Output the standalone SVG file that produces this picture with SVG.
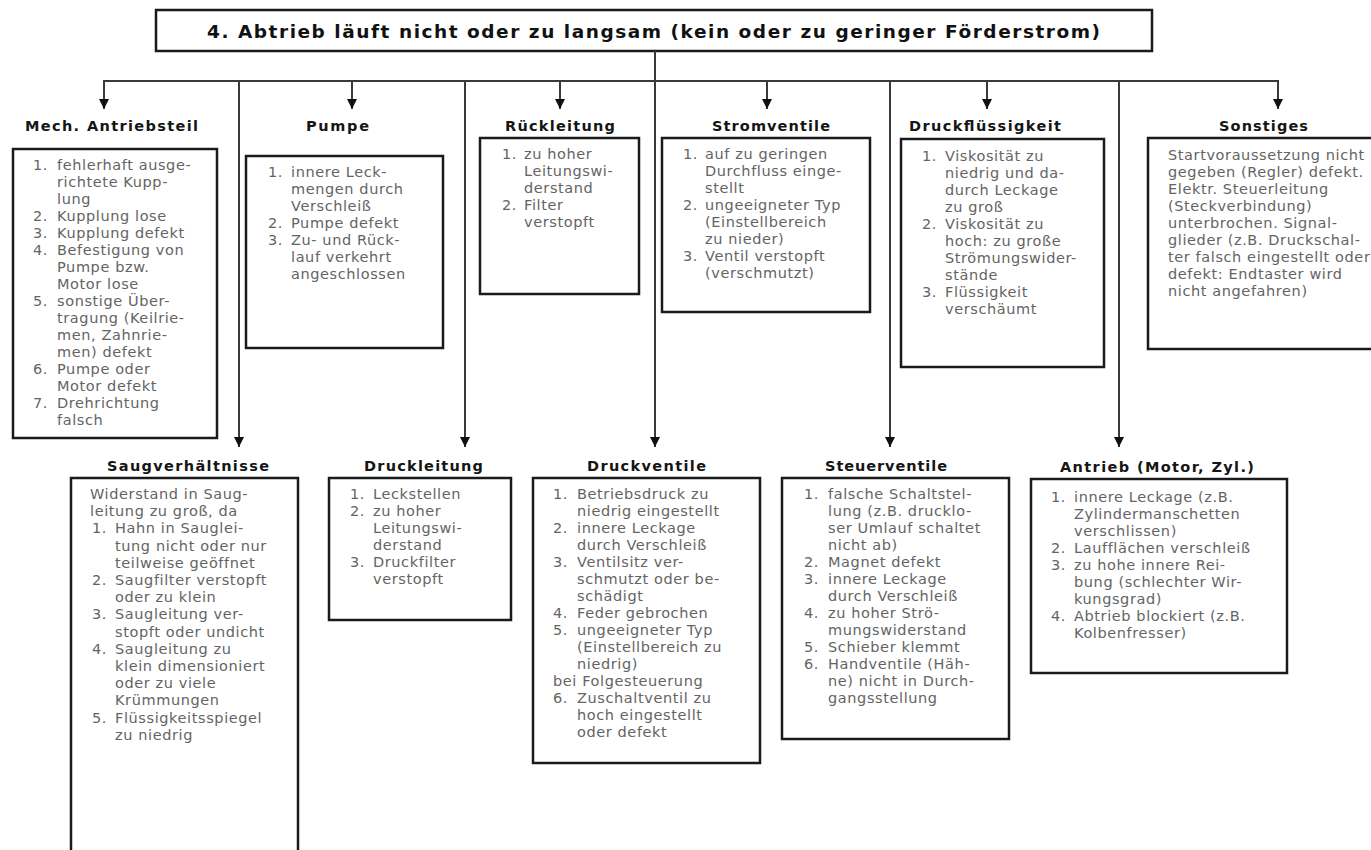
<svg xmlns="http://www.w3.org/2000/svg" width="1371" height="850" viewBox="0 0 1371 850">
  <style>
    .box { fill: #ffffff; stroke: #1a1a1a; stroke-width: 2.5; }
    .title { font-family: "DejaVu Sans", "Liberation Sans", sans-serif; font-weight: bold; font-size: 18.5px; fill: #111; }
    .head { font-family: "DejaVu Sans", "Liberation Sans", sans-serif; font-weight: bold; font-size: 14.5px; fill: #151515; }
    .body { font-family: "DejaVu Sans", "Liberation Sans", sans-serif; font-size: 14.5px; letter-spacing: 0.6px; fill: #646464; }
    .wire { fill: none; stroke: #3a3a3a; stroke-width: 2; }
    .drop { fill: none; stroke: #3a3a3a; stroke-width: 2; marker-end: url(#tip); }
  </style>
  <defs>
    <marker id="tip" viewBox="0 0 10 10" refX="10" refY="5" markerWidth="10" markerHeight="10" markerUnits="userSpaceOnUse" orient="auto">
      <path d="M0,0 L10,5 L0,10 z" fill="#111"/>
    </marker>
  </defs>

  <rect width="1371" height="850" fill="#ffffff"/>

  <!-- main problem -->
  <g id="title">
    <rect class="box" x="156" y="10" width="996" height="41" stroke-width="2"/>
    <text class="title" x="207" y="38" textLength="893">4. Abtrieb läuft nicht oder zu langsam (kein oder zu geringer Förderstrom)</text>
  </g>

  <!-- connectors: stem, bus and drops -->
  <g id="connectors">
    <line class="wire" x1="104" y1="81" x2="1278" y2="81"/>
    <line class="drop" x1="655" y1="51" x2="655" y2="447"/>
    <line class="drop" x1="104" y1="80" x2="104" y2="109"/>
    <line class="drop" x1="352" y1="81" x2="352" y2="109"/>
    <line class="drop" x1="560" y1="81" x2="560" y2="109"/>
    <line class="drop" x1="767" y1="81" x2="767" y2="109"/>
    <line class="drop" x1="987" y1="81" x2="987" y2="109"/>
    <line class="drop" x1="1278" y1="80" x2="1278" y2="109"/>
    <line class="drop" x1="239" y1="81" x2="239" y2="447"/>
    <line class="drop" x1="465" y1="81" x2="465" y2="447"/>
    <line class="drop" x1="890" y1="81" x2="890" y2="447"/>
    <line class="drop" x1="1119" y1="81" x2="1119" y2="447"/>
  </g>

  <!-- upper row -->
  <g id="mech-antriebsteil">
    <text class="head" x="25" y="131" textLength="173">Mech. Antriebsteil</text>
    <rect class="box" x="13" y="149" width="204" height="289"/>
    <text class="body">
      <tspan x="33" y="170">1.</tspan><tspan x="57" y="170">fehlerhaft ausge-</tspan>
      <tspan x="57" y="187">richtete Kupp-</tspan>
      <tspan x="57" y="204">lung</tspan>
      <tspan x="33" y="221">2.</tspan><tspan x="57" y="221">Kupplung lose</tspan>
      <tspan x="33" y="238">3.</tspan><tspan x="57" y="238">Kupplung defekt</tspan>
      <tspan x="33" y="255">4.</tspan><tspan x="57" y="255">Befestigung von</tspan>
      <tspan x="57" y="272">Pumpe bzw.</tspan>
      <tspan x="57" y="289">Motor lose</tspan>
      <tspan x="33" y="306">5.</tspan><tspan x="57" y="306">sonstige Über-</tspan>
      <tspan x="57" y="323">tragung (Keilrie-</tspan>
      <tspan x="57" y="340">men, Zahnrie-</tspan>
      <tspan x="57" y="357">men) defekt</tspan>
      <tspan x="33" y="374">6.</tspan><tspan x="57" y="374">Pumpe oder</tspan>
      <tspan x="57" y="391">Motor defekt</tspan>
      <tspan x="33" y="408">7.</tspan><tspan x="57" y="408">Drehrichtung</tspan>
      <tspan x="57" y="425">falsch</tspan>
    </text>
  </g>

  <g id="pumpe">
    <text class="head" x="306" y="131" textLength="63">Pumpe</text>
    <rect class="box" x="246" y="156" width="197" height="192"/>
    <text class="body">
      <tspan x="268" y="177">1.</tspan><tspan x="291" y="177">innere Leck-</tspan>
      <tspan x="291" y="194">mengen durch</tspan>
      <tspan x="291" y="211">Verschleiß</tspan>
      <tspan x="268" y="228">2.</tspan><tspan x="291" y="228">Pumpe defekt</tspan>
      <tspan x="268" y="245">3.</tspan><tspan x="291" y="245">Zu- und Rück-</tspan>
      <tspan x="291" y="262">lauf verkehrt</tspan>
      <tspan x="291" y="279">angeschlossen</tspan>
    </text>
  </g>

  <g id="rueckleitung">
    <text class="head" x="505" y="131" textLength="110">Rückleitung</text>
    <rect class="box" x="480" y="138" width="159" height="156"/>
    <text class="body">
      <tspan x="502" y="159">1.</tspan><tspan x="524" y="159">zu hoher</tspan>
      <tspan x="524" y="176">Leitungswi-</tspan>
      <tspan x="524" y="193">derstand</tspan>
      <tspan x="502" y="210">2.</tspan><tspan x="524" y="210">Filter</tspan>
      <tspan x="524" y="227">verstopft</tspan>
    </text>
  </g>

  <g id="stromventile">
    <text class="head" x="712" y="131" textLength="118">Stromventile</text>
    <rect class="box" x="662" y="138" width="208" height="174"/>
    <text class="body">
      <tspan x="683" y="159">1.</tspan><tspan x="705" y="159">auf zu geringen</tspan>
      <tspan x="705" y="176">Durchfluss einge-</tspan>
      <tspan x="705" y="193">stellt</tspan>
      <tspan x="683" y="210">2.</tspan><tspan x="705" y="210">ungeeigneter Typ</tspan>
      <tspan x="705" y="227">(Einstellbereich</tspan>
      <tspan x="705" y="244">zu nieder)</tspan>
      <tspan x="683" y="261">3.</tspan><tspan x="705" y="261">Ventil verstopft</tspan>
      <tspan x="705" y="278">(verschmutzt)</tspan>
    </text>
  </g>

  <g id="druckfluessigkeit">
    <text class="head" x="909" y="131" textLength="152">Druckflüssigkeit</text>
    <rect class="box" x="901" y="139" width="203" height="228"/>
    <text class="body">
      <tspan x="922" y="161">1.</tspan><tspan x="945" y="161">Viskosität zu</tspan>
      <tspan x="945" y="178">niedrig und da-</tspan>
      <tspan x="945" y="195">durch Leckage</tspan>
      <tspan x="945" y="212">zu groß</tspan>
      <tspan x="922" y="229">2.</tspan><tspan x="945" y="229">Viskosität zu</tspan>
      <tspan x="945" y="246">hoch: zu große</tspan>
      <tspan x="945" y="263">Strömungswider-</tspan>
      <tspan x="945" y="280">stände</tspan>
      <tspan x="922" y="297">3.</tspan><tspan x="945" y="297">Flüssigkeit</tspan>
      <tspan x="945" y="314">verschäumt</tspan>
    </text>
  </g>

  <g id="sonstiges">
    <text class="head" x="1219" y="131" textLength="89">Sonstiges</text>
    <rect class="box" x="1148" y="138" width="240" height="211"/>
    <text class="body">
      <tspan x="1168" y="160">Startvoraussetzung nicht</tspan>
      <tspan x="1168" y="177">gegeben (Regler) defekt.</tspan>
      <tspan x="1168" y="194">Elektr. Steuerleitung</tspan>
      <tspan x="1168" y="211">(Steckverbindung)</tspan>
      <tspan x="1168" y="228">unterbrochen. Signal-</tspan>
      <tspan x="1168" y="245">glieder (z.B. Druckschal-</tspan>
      <tspan x="1168" y="262">ter falsch eingestellt oder</tspan>
      <tspan x="1168" y="279">defekt: Endtaster wird</tspan>
      <tspan x="1168" y="296">nicht angefahren)</tspan>
    </text>
  </g>

  <!-- lower row -->
  <g id="saugverhaeltnisse">
    <text class="head" x="107" y="471" textLength="162">Saugverhältnisse</text>
    <rect class="box" x="71" y="478" width="227" height="400"/>
    <text class="body">
      <tspan x="90" y="499">Widerstand in Saug-</tspan>
      <tspan x="90" y="516.2">leitung zu groß, da</tspan>
      <tspan x="92" y="533.4">1.</tspan><tspan x="115" y="533.4">Hahn in Sauglei-</tspan>
      <tspan x="115" y="550.6">tung nicht oder nur</tspan>
      <tspan x="115" y="567.8">teilweise geöffnet</tspan>
      <tspan x="92" y="585">2.</tspan><tspan x="115" y="585">Saugfilter verstopft</tspan>
      <tspan x="115" y="602.2">oder zu klein</tspan>
      <tspan x="92" y="619.4">3.</tspan><tspan x="115" y="619.4">Saugleitung ver-</tspan>
      <tspan x="115" y="636.6">stopft oder undicht</tspan>
      <tspan x="92" y="653.8">4.</tspan><tspan x="115" y="653.8">Saugleitung zu</tspan>
      <tspan x="115" y="671">klein dimensioniert</tspan>
      <tspan x="115" y="688.2">oder zu viele</tspan>
      <tspan x="115" y="705.4">Krümmungen</tspan>
      <tspan x="92" y="722.6">5.</tspan><tspan x="115" y="722.6">Flüssigkeitsspiegel</tspan>
      <tspan x="115" y="739.8">zu niedrig</tspan>
    </text>
  </g>

  <g id="druckleitung">
    <text class="head" x="364" y="471" textLength="119">Druckleitung</text>
    <rect class="box" x="329" y="478" width="182" height="142"/>
    <text class="body">
      <tspan x="350" y="499">1.</tspan><tspan x="373" y="499">Leckstellen</tspan>
      <tspan x="350" y="516">2.</tspan><tspan x="373" y="516">zu hoher</tspan>
      <tspan x="373" y="533">Leitungswi-</tspan>
      <tspan x="373" y="550">derstand</tspan>
      <tspan x="350" y="567">3.</tspan><tspan x="373" y="567">Druckfilter</tspan>
      <tspan x="373" y="584">verstopft</tspan>
    </text>
  </g>

  <g id="druckventile">
    <text class="head" x="587" y="471" textLength="119">Druckventile</text>
    <rect class="box" x="533" y="478" width="227" height="285"/>
    <text class="body">
      <tspan x="553" y="499">1.</tspan><tspan x="577" y="499">Betriebsdruck zu</tspan>
      <tspan x="577" y="516">niedrig eingestellt</tspan>
      <tspan x="553" y="533">2.</tspan><tspan x="577" y="533">innere Leckage</tspan>
      <tspan x="577" y="550">durch Verschleiß</tspan>
      <tspan x="553" y="567">3.</tspan><tspan x="577" y="567">Ventilsitz ver-</tspan>
      <tspan x="577" y="584">schmutzt oder be-</tspan>
      <tspan x="577" y="601">schädigt</tspan>
      <tspan x="553" y="618">4.</tspan><tspan x="577" y="618">Feder gebrochen</tspan>
      <tspan x="553" y="635">5.</tspan><tspan x="577" y="635">ungeeigneter Typ</tspan>
      <tspan x="577" y="652">(Einstellbereich zu</tspan>
      <tspan x="577" y="669">niedrig)</tspan>
      <tspan x="553" y="686">bei Folgesteuerung</tspan>
      <tspan x="553" y="703">6.</tspan><tspan x="577" y="703">Zuschaltventil zu</tspan>
      <tspan x="577" y="720">hoch eingestellt</tspan>
      <tspan x="577" y="737">oder defekt</tspan>
    </text>
  </g>

  <g id="steuerventile">
    <text class="head" x="825" y="471" textLength="122">Steuerventile</text>
    <rect class="box" x="782" y="478" width="227" height="261"/>
    <text class="body">
      <tspan x="804" y="499">1.</tspan><tspan x="828" y="499">falsche Schaltstel-</tspan>
      <tspan x="828" y="516">lung (z.B. drucklo-</tspan>
      <tspan x="828" y="533">ser Umlauf schaltet</tspan>
      <tspan x="828" y="550">nicht ab)</tspan>
      <tspan x="804" y="567">2.</tspan><tspan x="828" y="567">Magnet defekt</tspan>
      <tspan x="804" y="584">3.</tspan><tspan x="828" y="584">innere Leckage</tspan>
      <tspan x="828" y="601">durch Verschleiß</tspan>
      <tspan x="804" y="618">4.</tspan><tspan x="828" y="618">zu hoher Strö-</tspan>
      <tspan x="828" y="635">mungswiderstand</tspan>
      <tspan x="804" y="652">5.</tspan><tspan x="828" y="652">Schieber klemmt</tspan>
      <tspan x="804" y="669">6.</tspan><tspan x="828" y="669">Handventile (Häh-</tspan>
      <tspan x="828" y="686">ne) nicht in Durch-</tspan>
      <tspan x="828" y="703">gangsstellung</tspan>
    </text>
  </g>

  <g id="antrieb">
    <text class="head" x="1060" y="472" textLength="194">Antrieb (Motor, Zyl.)</text>
    <rect class="box" x="1031" y="479" width="256" height="194"/>
    <text class="body">
      <tspan x="1051" y="502">1.</tspan><tspan x="1074" y="502">innere Leckage (z.B.</tspan>
      <tspan x="1074" y="519">Zylindermanschetten</tspan>
      <tspan x="1074" y="536">verschlissen)</tspan>
      <tspan x="1051" y="553">2.</tspan><tspan x="1074" y="553">Laufflächen verschleiß</tspan>
      <tspan x="1051" y="570">3.</tspan><tspan x="1074" y="570">zu hohe innere Rei-</tspan>
      <tspan x="1074" y="587">bung (schlechter Wir-</tspan>
      <tspan x="1074" y="604">kungsgrad)</tspan>
      <tspan x="1051" y="621">4.</tspan><tspan x="1074" y="621">Abtrieb blockiert (z.B.</tspan>
      <tspan x="1074" y="638">Kolbenfresser)</tspan>
    </text>
  </g>
</svg>
